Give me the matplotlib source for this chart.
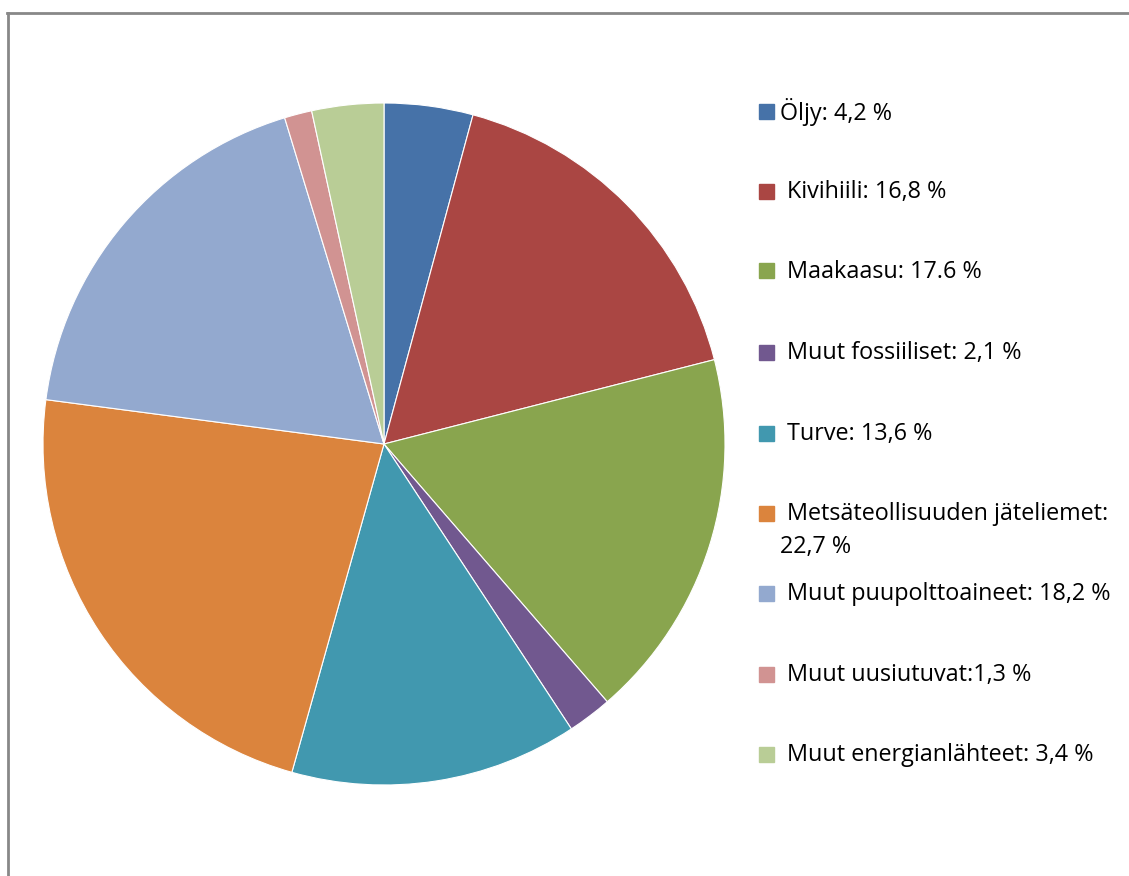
import matplotlib
matplotlib.use("Agg")
import matplotlib.pyplot as plt
import matplotlib.patches as patches

# Energialähteet, osuudet (%)
labels = ["Öljy: 4,2 %", "Kivihiili: 16,8 %", "Maakaasu: 17.6 %",
          "Muut fossiiliset: 2,1 %", "Turve: 13,6 %",
          "Metsäteollisuuden jäteliemet:\n22,7 %",
          "Muut puupolttoaineet: 18,2 %", "Muut uusiutuvat:1,3 %",
          "Muut energianlähteet: 3,4 %"]
values = [4.2, 16.8, 17.6, 2.1, 13.6, 22.7, 18.2, 1.3, 3.4]
colors = ["#4672A8", "#AA4643", "#89A54E", "#71588F", "#4198AF",
          "#DB843D", "#93A9CF", "#D19392", "#B9CD96"]

W, H = 1129, 876
fig = plt.figure(figsize=(W / 100, H / 100), dpi=100)
plt.rcParams['font.family'] = ['Open Sans', 'DejaVu Sans']

# kehys
fig.add_artist(plt.Line2D([7.5 / W, 7.5 / W], [0, 1 - 12.5 / H], transform=fig.transFigure,
                          color="#888888", lw=2))
fig.add_artist(plt.Line2D([6.5 / W, 1], [1 - 13 / H, 1 - 13 / H], transform=fig.transFigure,
                          color="#888888", lw=2))

cx, cy, r = 384, 444, 341
ax = fig.add_axes([(cx - r) / W, (H - cy - r) / H, 2 * r / W, 2 * r / H])
ax.pie(values, colors=colors, startangle=90, counterclock=False, radius=1,
       wedgeprops=dict(edgecolor="white", linewidth=0.8))
ax.set_xlim(-1, 1)
ax.set_ylim(-1, 1)
ax.axis('off')

# selite
fs = 16.8
ys = [111, 191, 271, 352, 433, 513, 593, 674, 754]
for i, (lab, col) in enumerate(zip(labels, colors)):
    y = ys[i]
    fig.add_artist(patches.Rectangle((759 / W, 1 - (y + 7.5) / H), 15 / W, 15 / H,
                                     transform=fig.transFigure, color=col))
    tx = 780 if i == 0 else 787
    if "\n" in lab:
        first, second = lab.split("\n")
        fig.text(tx / W, 1 - (y + 1) / H, first, fontsize=fs, va="center", ha="left")
        fig.text(780 / W, 1 - 547 / H, second, fontsize=fs, va="center", ha="left")
    else:
        fig.text(tx / W, 1 - (y + 1) / H, lab, fontsize=fs, va="center", ha="left")

fig.savefig("out.png", dpi=100)
